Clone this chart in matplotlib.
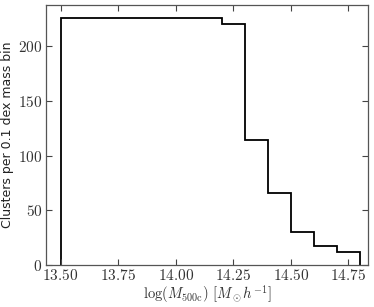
import numpy as np
import matplotlib
matplotlib.use("Agg")
import matplotlib.pyplot as plt
from matplotlib.ticker import FixedLocator, FuncFormatter

# bin edges in log mass and cluster counts per bin
bin_edges = [13.5, 13.6, 13.7, 13.8, 13.9, 14.0, 14.1, 14.2, 14.3, 14.4, 14.5, 14.6, 14.7, 14.8]
counts = [226, 226, 226, 226, 226, 226, 226, 220, 114, 66, 30, 17, 12]
x_ticks = [13.50, 13.75, 14.00, 14.25, 14.50, 14.75]
y_ticks = [0, 50, 100, 150, 200]

plt.rcParams['mathtext.fontset'] = 'cm'

fig = plt.figure(figsize=(3.74, 3.07), dpi=100)
ax = fig.add_axes([0.123, 0.137, 0.862, 0.846])

ax.stairs(counts, bin_edges, baseline=0, fill=False, color='black', linewidth=1.3)

ax.set_xlim(13.437, 14.837)
ax.set_ylim(0, 237.5)
ax.xaxis.set_major_locator(FixedLocator(x_ticks))
ax.yaxis.set_major_locator(FixedLocator(y_ticks))
ax.xaxis.set_major_formatter(FuncFormatter(lambda v, p: r'$%.2f$' % v))
ax.yaxis.set_major_formatter(FuncFormatter(lambda v, p: r'$%d$' % v))

ax.tick_params(direction='in', top=True, right=True, length=4, width=0.8,
               labelsize=11, colors='#444444', labelcolor='#333333', pad=2.5)
for s in ax.spines.values():
    s.set_color('#555555')
    s.set_linewidth(0.9)

ax.set_xlabel(r'$\log(M_{500\mathrm{c}})\ [M_\odot h^{-1}]$', fontsize=10.5,
              color='#333333', labelpad=0)
ax.set_ylabel('Clusters per 0.1 dex mass bin', fontsize=9, color='#222222',
              labelpad=3)

fig.savefig('out.png', dpi=100)
